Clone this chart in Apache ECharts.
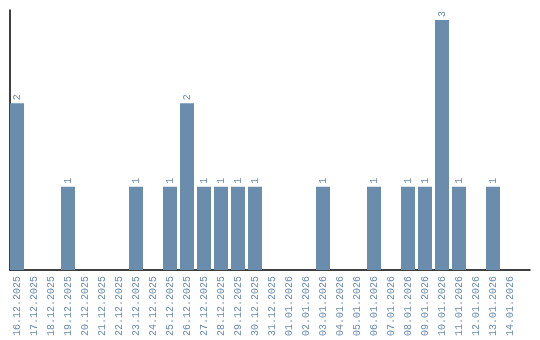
<!DOCTYPE html>
<html>
<head>
<meta charset="utf-8">
<script src="https://cdn.jsdelivr.net/npm/echarts@6/dist/echarts.min.js"></script>
<style>html,body{margin:0;padding:0;background:#fff}#c{width:540px;height:340px}</style>
</head>
<body>
<div id="c"></div>
<script>
const categories = ["16.12.2025","17.12.2025","18.12.2025","19.12.2025","20.12.2025","21.12.2025","22.12.2025","23.12.2025","24.12.2025","25.12.2025","26.12.2025","27.12.2025","28.12.2025","29.12.2025","30.12.2025","31.12.2025","01.01.2026","02.01.2026","03.01.2026","04.01.2026","05.01.2026","06.01.2026","07.01.2026","08.01.2026","09.01.2026","10.01.2026","11.01.2026","12.01.2026","13.01.2026","14.01.2026"];
const values = [2,0,0,1,0,0,0,1,0,1,2,1,1,1,1,0,0,0,1,0,0,1,0,1,1,3,1,0,1,0];
const barColor = '#6a8cad';
const font = 'Liberation Mono';
const chart = echarts.init(document.getElementById('c'), null, {renderer:'canvas'});
chart.setOption({
  animation:false,
  grid:[
    {left:8.5, width:510, top:10, bottom:70, containLabel:false},
    {left:10, width:520, top:10, bottom:70, containLabel:false}
  ],
  xAxis:[{
    type:'category', data:categories, boundaryGap:true, gridIndex:0,
    axisLine:{show:false},
    axisTick:{show:false},
    axisLabel:{rotate:90, interval:0, color:barColor, fontFamily:font, fontSize:10, margin:6}
  },{
    type:'value', gridIndex:1, min:0, max:1,
    axisLine:{show:true, onZero:false, lineStyle:{color:'#000', width:1.5}},
    axisTick:{show:false}, axisLabel:{show:false}, splitLine:{show:false}
  }],
  yAxis:[{
    type:'value', min:0, max:3.12, gridIndex:0,
    axisLine:{show:false},
    axisTick:{show:false}, axisLabel:{show:false}, splitLine:{show:false}
  },{
    type:'value', gridIndex:1, min:0, max:1,
    axisLine:{show:true, onZero:false, lineStyle:{color:'#000', width:1.5}},
    axisTick:{show:false}, axisLabel:{show:false}, splitLine:{show:false}
  }],
  series:[{
    type:'bar', data:values.map(v=>v===0?null:v), barWidth:14,
    xAxisIndex:0, yAxisIndex:0,
    itemStyle:{color:barColor},
    label:{show:true, position:'top', rotate:90, align:'left', verticalAlign:'middle', distance:3,
      color:barColor, fontFamily:font, fontSize:10}
  }]
});
</script>
</body>
</html>
